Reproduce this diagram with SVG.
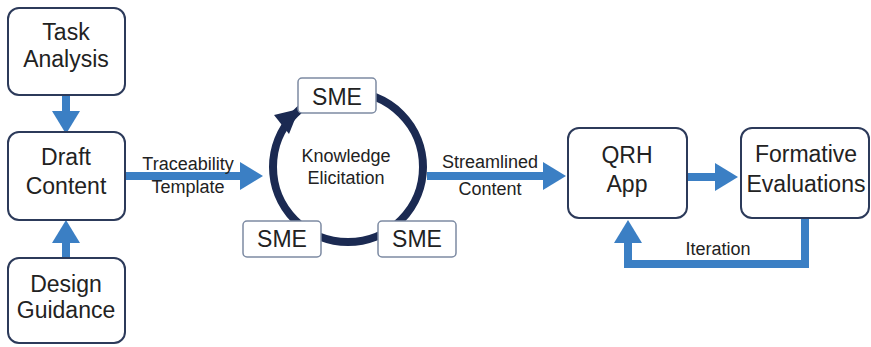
<svg xmlns="http://www.w3.org/2000/svg" width="871" height="347" viewBox="0 0 871 347">
  <style>
    .box { fill: #ffffff; stroke: #2c3a5a; stroke-width: 2; }
    .sme { fill: #ffffff; stroke: #7d8ba3; stroke-width: 1.5; }
    .big { font-family: "Liberation Sans", Arial, sans-serif; font-size: 23px; fill: #222222; text-anchor: middle; }
    .lbl { font-family: "Liberation Sans", Arial, sans-serif; font-size: 18px; fill: #222222; text-anchor: middle; }
    .flow { fill: none; stroke: #3b7fc4; stroke-width: 8; }
  </style>
  <defs>
    <marker id="head" markerUnits="userSpaceOnUse" markerWidth="23" markerHeight="28" refX="0" refY="14" orient="auto">
      <path d="M0,0 L23,14 L0,28 Z" fill="#3b7fc4"/>
    </marker>
  </defs>

  <!-- connectors -->
  <g id="connectors">
    <path class="flow" d="M66,95 V111" marker-end="url(#head)"/>
    <path class="flow" d="M66,258 V243" marker-end="url(#head)"/>
    <path class="flow" d="M125,176 H240" marker-end="url(#head)"/>
    <path class="flow" d="M427,176 H543" marker-end="url(#head)"/>
    <path class="flow" d="M687,177 H715" marker-end="url(#head)"/>
    <path class="flow" d="M805,218 V264 H628 V243" marker-end="url(#head)"/>
    <!-- elicitation cycle -->
    <circle cx="348" cy="167" r="75" fill="none" stroke="#1b2a52" stroke-width="8"/>
    <polygon points="299,109 274,115 289,134" fill="#1b2a52"/>
  </g>

  <g id="task-analysis">
    <rect class="box" x="8" y="8" width="117" height="87" rx="11"/>
    <text class="big" x="66" y="40">Task</text>
    <text class="big" x="66" y="67">Analysis</text>
  </g>

  <g id="draft-content">
    <rect class="box" x="8" y="132" width="117" height="88" rx="11"/>
    <text class="big" x="66" y="165">Draft</text>
    <text class="big" x="66" y="194">Content</text>
  </g>

  <g id="design-guidance">
    <rect class="box" x="8" y="258" width="117" height="85" rx="11"/>
    <text class="big" x="66" y="292">Design</text>
    <text class="big" x="66" y="318">Guidance</text>
  </g>

  <g id="traceability-label">
    <text class="lbl" x="188" y="170">Traceability</text>
    <text class="lbl" x="188" y="193">Template</text>
  </g>

  <g id="knowledge-elicitation">
    <text class="lbl" x="346" y="162">Knowledge</text>
    <text class="lbl" x="346" y="184">Elicitation</text>
  </g>

  <g id="sme-top">
    <rect class="sme" x="298" y="78" width="78" height="35" rx="4"/>
    <text class="big" x="337" y="105">SME</text>
  </g>

  <g id="sme-left">
    <rect class="sme" x="243" y="221" width="78" height="36" rx="4"/>
    <text class="big" x="282" y="247">SME</text>
  </g>

  <g id="sme-right">
    <rect class="sme" x="378" y="221" width="78" height="36" rx="4"/>
    <text class="big" x="417" y="247">SME</text>
  </g>

  <g id="streamlined-label">
    <text class="lbl" x="490" y="168">Streamlined</text>
    <text class="lbl" x="490" y="195">Content</text>
  </g>

  <g id="qrh-app">
    <rect class="box" x="568" y="128" width="119" height="90" rx="11"/>
    <text class="big" x="627" y="163">QRH</text>
    <text class="big" x="627" y="192">App</text>
  </g>

  <g id="formative-evaluations">
    <rect class="box" x="741" y="128" width="128" height="90" rx="11"/>
    <text class="big" x="806" y="162">Formative</text>
    <text class="big" x="806" y="192">Evaluations</text>
  </g>

  <g id="iteration-label">
    <text class="lbl" x="718" y="255">Iteration</text>
  </g>
</svg>
